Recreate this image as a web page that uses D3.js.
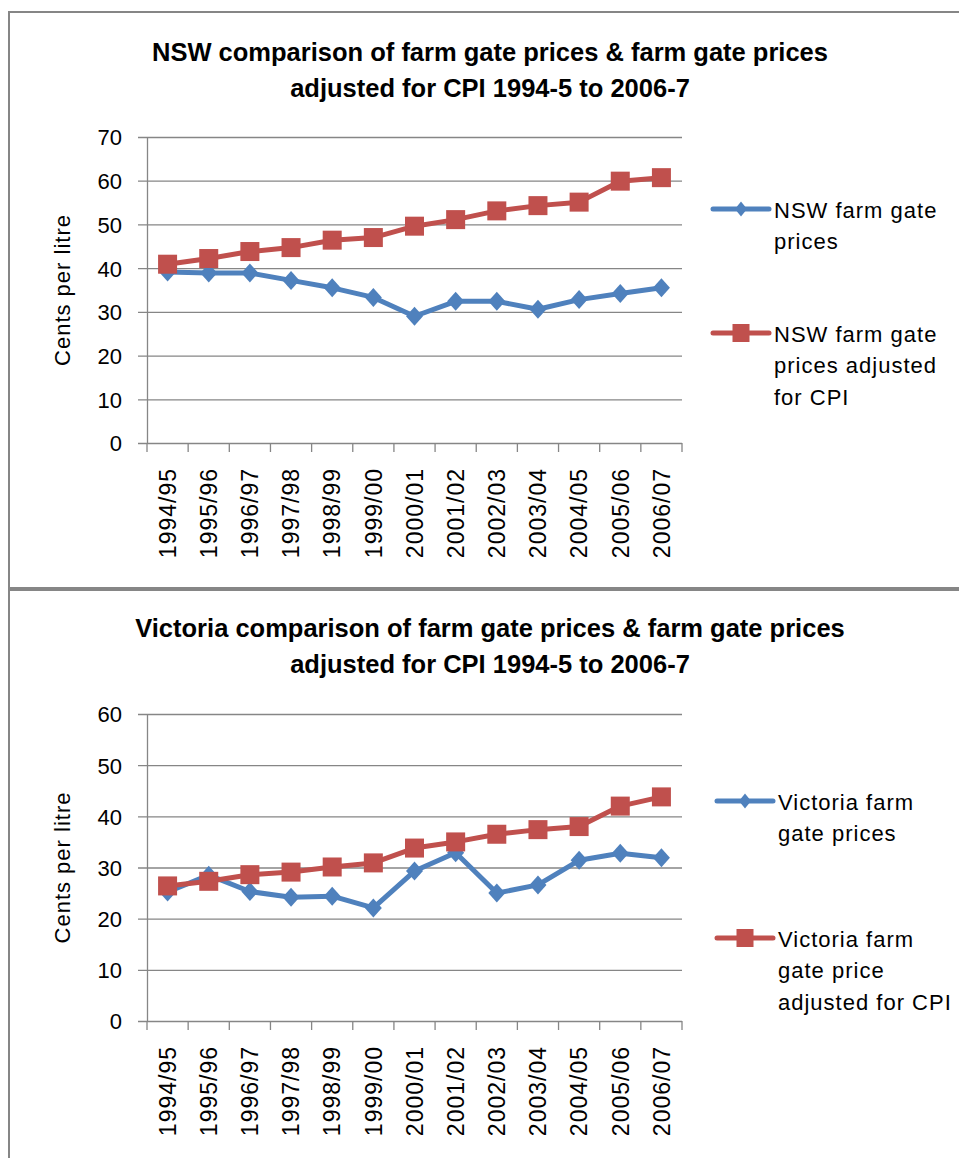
<!DOCTYPE html>
<html>
<head>
<meta charset="utf-8">
<script src="https://cdn.jsdelivr.net/npm/d3@7"></script>
<style>
  body { margin: 0; background: #fff; }
  svg { display: block; font-family: "Liberation Sans", Arial, sans-serif; }
  .tick text { fill: #000; }
</style>
</head>
<body>
<svg id="chart"></svg>
<script>
// values
const years = ['1994/95', '1995/96', '1996/97', '1997/98', '1998/99', '1999/00', '2000/01',
  '2001/02', '2002/03', '2003/04', '2004/05', '2005/06', '2006/07'];
const nswPrices = [39.1, 38.9, 38.9, 37.2, 35.5, 33.3, 29.0, 32.4, 32.4, 30.6, 32.8, 34.2, 35.5];
const nswAdjusted = [40.9, 42.2, 43.8, 44.7, 46.4, 47.0, 49.6, 51.1, 53.1, 54.3, 55.1, 59.9, 60.7];
const vicPrices = [25.2, 28.5, 25.3, 24.2, 24.4, 22.1, 29.3, 32.9, 25.0, 26.6, 31.4, 32.8, 31.9];
const vicAdjusted = [26.4, 27.3, 28.6, 29.1, 30.1, 30.9, 33.8, 35.0, 36.5, 37.4, 38.0, 42.0, 43.8];
const nswTicks = [0, 10, 20, 30, 40, 50, 60, 70];
const vicTicks = [0, 10, 20, 30, 40, 50, 60];

const blue = '#4f81bd';
const red = '#c0504d';
const gridColor = '#868686';

const svg = d3.select('svg#chart')
  .attr('width', 959)
  .attr('height', 1158);

svg.append('rect').attr('width', 959).attr('height', 1158).attr('fill', '#fff');

// panel frames
svg.append('rect')
  .attr('x', 9).attr('y', 12).attr('width', 970).attr('height', 576)
  .attr('fill', 'none').attr('stroke', gridColor).attr('stroke-width', 2);
svg.append('rect')
  .attr('x', 9).attr('y', 590).attr('width', 970).attr('height', 600)
  .attr('fill', 'none').attr('stroke', gridColor).attr('stroke-width', 2);

const diamond = (w, h) => `M0,${-h}L${w},0L0,${h}L${-w},0Z`;

function drawChart(opt) {
  const g = svg.append('g');
  const left = 147, right = 682;

  const x = d3.scaleBand().domain(years).range([left, right]).padding(0);
  const y = d3.scaleLinear().domain([0, d3.max(opt.ticks)]).range([opt.bottom, opt.top]);
  const bw = x.bandwidth();

  // title
  g.append('text')
    .attr('x', 490).attr('y', opt.titleY)
    .attr('text-anchor', 'middle')
    .style('font-size', '25.5px').style('font-weight', 'bold')
    .selectAll('tspan')
    .data(opt.title)
    .join('tspan')
    .attr('x', 490)
    .attr('dy', (d, i) => i === 0 ? 0 : 36)
    .text(d => d);

  // y axis + gridlines
  const yAxis = g.append('g')
    .attr('transform', `translate(${left},0)`)
    .call(d3.axisLeft(y).tickValues(opt.ticks).tickSizeInner(9).tickSizeOuter(0).tickPadding(16));
  yAxis.select('.domain').attr('stroke', gridColor).attr('stroke-width', 1.3);
  yAxis.selectAll('.tick line')
    .attr('x1', right - left)
    .attr('stroke', gridColor).attr('stroke-width', 1.3);
  yAxis.selectAll('.tick text')
    .style('font-size', '22px')
    .attr('dy', '0.36em');

  // category boundary ticks
  g.append('g')
    .selectAll('line')
    .data(d3.range(years.length + 1))
    .join('line')
    .attr('x1', i => left + i * bw)
    .attr('x2', i => left + i * bw)
    .attr('y1', opt.bottom)
    .attr('y2', opt.bottom + 9)
    .attr('stroke', gridColor).attr('stroke-width', 1.3);

  // x labels
  const xAxis = g.append('g')
    .attr('transform', `translate(0,${opt.bottom})`)
    .call(d3.axisBottom(x).tickSize(0));
  xAxis.select('.domain').remove();
  xAxis.selectAll('.tick text')
    .attr('transform', 'rotate(-90)')
    .attr('text-anchor', 'end')
    .attr('x', -25)
    .attr('y', 0)
    .attr('dy', '0.36em')
    .style('font-size', '23px')
    .style('letter-spacing', '1px');

  // y axis title
  g.append('text')
    .attr('transform', `translate(62,${(opt.top + opt.bottom) / 2}) rotate(-90)`)
    .attr('text-anchor', 'middle')
    .attr('dy', '0.36em')
    .style('font-size', '22px')
    .style('letter-spacing', '1px')
    .text('Cents per litre');

  const cx = (d, i) => x(years[i]) + bw / 2;
  const line = d3.line().x(cx).y(d => y(d));

  // series 1: diamonds
  g.append('path')
    .datum(opt.prices)
    .attr('d', line)
    .attr('fill', 'none').attr('stroke', blue).attr('stroke-width', 5)
    .attr('stroke-linejoin', 'round');
  g.append('g')
    .selectAll('path')
    .data(opt.prices)
    .join('path')
    .attr('transform', (d, i) => `translate(${cx(d, i)},${y(d)})`)
    .attr('d', diamond(8.5, 9.5))
    .attr('fill', blue);

  // series 2: squares
  g.append('path')
    .datum(opt.adjusted)
    .attr('d', line)
    .attr('fill', 'none').attr('stroke', red).attr('stroke-width', 5)
    .attr('stroke-linejoin', 'round');
  g.append('g')
    .selectAll('rect')
    .data(opt.adjusted)
    .join('rect')
    .attr('x', (d, i) => cx(d, i) - 9.5)
    .attr('y', d => y(d) - 9.5)
    .attr('width', 19).attr('height', 19)
    .attr('fill', red);

  // legend
  const lx = opt.legendX;
  opt.legend.forEach(item => {
    const lg = g.append('g');
    lg.append('line')
      .attr('x1', lx).attr('x2', lx + 56)
      .attr('y1', item.y).attr('y2', item.y)
      .attr('stroke', item.color).attr('stroke-width', 5)
      .attr('stroke-linecap', 'round');
    if (item.marker === 'diamond') {
      lg.append('path')
        .attr('transform', `translate(${lx + 28},${item.y})`)
        .attr('d', diamond(6, 7.5))
        .attr('fill', item.color);
    } else {
      lg.append('rect')
        .attr('x', lx + 28 - 8.5).attr('y', item.y - 9)
        .attr('width', 17).attr('height', 18)
        .attr('fill', item.color);
    }
    lg.append('text')
      .attr('y', item.y + 8.5)
      .style('font-size', '22px')
      .style('letter-spacing', '1px')
      .selectAll('tspan')
      .data(item.lines)
      .join('tspan')
      .attr('x', lx + 61)
      .attr('dy', (d, i) => i === 0 ? 0 : 31.5)
      .text(d => d);
  });
}

drawChart({
  title: ['NSW comparison of farm gate prices & farm gate prices', 'adjusted for CPI 1994-5 to 2006-7'],
  titleY: 61,
  top: 137, bottom: 443,
  ticks: nswTicks,
  prices: nswPrices,
  adjusted: nswAdjusted,
  legendX: 713,
  legend: [
    {y: 209, color: blue, marker: 'diamond', lines: ['NSW farm gate', 'prices']},
    {y: 333, color: red, marker: 'square', lines: ['NSW farm gate', 'prices adjusted', 'for CPI']}
  ]
});

drawChart({
  title: ['Victoria comparison of farm gate prices & farm gate prices', 'adjusted for CPI 1994-5 to 2006-7'],
  titleY: 637,
  top: 714, bottom: 1021,
  ticks: vicTicks,
  prices: vicPrices,
  adjusted: vicAdjusted,
  legendX: 717,
  legend: [
    {y: 801, color: blue, marker: 'diamond', lines: ['Victoria farm', 'gate prices']},
    {y: 938, color: red, marker: 'square', lines: ['Victoria farm', 'gate price', 'adjusted for CPI']}
  ]
});
</script>
</body>
</html>
